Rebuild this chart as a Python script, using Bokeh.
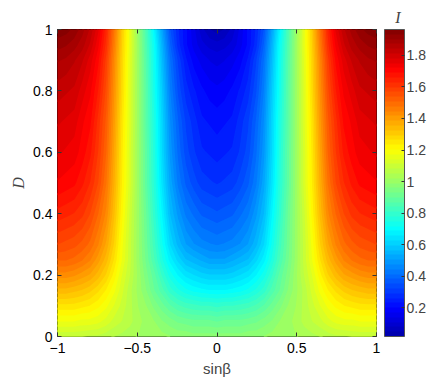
import numpy as np
from bokeh.plotting import figure
from bokeh.models import ColorBar, LinearColorMapper, FixedTicker, LinearAxis, Range1d
from bokeh.core.properties import field
from bokeh.embed import file_html
from bokeh.resources import INLINE

# ---- data (symmetric in sin(beta); right half given) ----
sin_beta_half = [0.0, 0.05, 0.1, 0.15, 0.2, 0.25, 0.3, 0.35, 0.4, 0.45, 0.5,
                 0.55, 0.6, 0.65, 0.7, 0.75, 0.8, 0.85, 0.9, 0.95, 1.0]
D_values = [0.0, 0.05, 0.1, 0.15, 0.2, 0.25, 0.3, 0.4, 0.5, 0.6, 0.7, 0.8, 0.9, 0.95, 1.0]
I_half = [
    [0.97, 0.97, 0.97, 0.97, 0.98, 0.98, 0.99, 1.00, 1.01, 1.02, 1.02, 1.03, 1.04, 1.05, 1.06, 1.07, 1.07, 1.08, 1.08, 1.08, 1.08],
    [0.89, 0.90, 0.90, 0.90, 0.91, 0.92, 0.94, 0.96, 0.99, 1.01, 1.03, 1.06, 1.08, 1.10, 1.13, 1.15, 1.16, 1.16, 1.17, 1.17, 1.17],
    [0.79, 0.80, 0.80, 0.81, 0.82, 0.84, 0.87, 0.91, 0.95, 0.99, 1.02, 1.06, 1.10, 1.14, 1.18, 1.21, 1.23, 1.24, 1.25, 1.25, 1.25],
    [0.68, 0.68, 0.69, 0.70, 0.72, 0.75, 0.79, 0.85, 0.90, 0.96, 1.01, 1.06, 1.12, 1.18, 1.23, 1.27, 1.30, 1.32, 1.33, 1.34, 1.34],
    [0.59, 0.59, 0.60, 0.62, 0.64, 0.68, 0.73, 0.80, 0.88, 0.94, 1.01, 1.08, 1.14, 1.22, 1.29, 1.34, 1.38, 1.40, 1.42, 1.43, 1.43],
    [0.50, 0.50, 0.52, 0.54, 0.56, 0.61, 0.67, 0.75, 0.84, 0.92, 1.00, 1.09, 1.17, 1.26, 1.34, 1.40, 1.45, 1.48, 1.50, 1.51, 1.51],
    [0.43, 0.44, 0.45, 0.47, 0.50, 0.55, 0.62, 0.72, 0.82, 0.91, 1.00, 1.09, 1.18, 1.29, 1.38, 1.45, 1.50, 1.53, 1.55, 1.56, 1.57],
    [0.35, 0.36, 0.37, 0.40, 0.43, 0.49, 0.56, 0.68, 0.79, 0.90, 1.00, 1.10, 1.21, 1.33, 1.44, 1.51, 1.57, 1.61, 1.63, 1.64, 1.65],
    [0.28, 0.29, 0.30, 0.33, 0.37, 0.43, 0.52, 0.64, 0.77, 0.88, 1.00, 1.12, 1.23, 1.36, 1.48, 1.57, 1.63, 1.67, 1.70, 1.71, 1.72],
    [0.24, 0.25, 0.26, 0.29, 0.33, 0.40, 0.49, 0.62, 0.76, 0.88, 1.00, 1.12, 1.24, 1.38, 1.51, 1.60, 1.67, 1.71, 1.74, 1.75, 1.76],
    [0.21, 0.22, 0.23, 0.27, 0.31, 0.38, 0.47, 0.61, 0.75, 0.87, 1.00, 1.13, 1.25, 1.40, 1.53, 1.62, 1.70, 1.73, 1.77, 1.78, 1.79],
    [0.17, 0.18, 0.20, 0.23, 0.27, 0.34, 0.44, 0.59, 0.73, 0.87, 1.00, 1.13, 1.27, 1.42, 1.56, 1.66, 1.73, 1.77, 1.81, 1.82, 1.83],
    [0.12, 0.13, 0.15, 0.18, 0.23, 0.31, 0.41, 0.56, 0.72, 0.86, 1.00, 1.14, 1.28, 1.44, 1.59, 1.70, 1.77, 1.82, 1.85, 1.87, 1.88],
    [0.08, 0.09, 0.11, 0.15, 0.20, 0.27, 0.38, 0.54, 0.71, 0.85, 1.00, 1.15, 1.29, 1.46, 1.62, 1.73, 1.81, 1.86, 1.89, 1.91, 1.92],
    [0.02, 0.04, 0.08, 0.14, 0.20, 0.26, 0.35, 0.51, 0.68, 0.84, 0.99, 1.15, 1.30, 1.48, 1.64, 1.76, 1.84, 1.89, 1.93, 1.95, 1.96],
]
I_low, I_high = 0.016, 1.965

x_ticks = [-1, -0.5, 0, 0.5, 1]
x_tick_labels = ["\u22121", "\u22120.5", "0", "0.5", "1"]
y_ticks = [0, 0.2, 0.4, 0.6, 0.8, 1]
y_tick_labels = ["0", "0.2", "0.4", "0.6", "0.8", "1"]
cb_ticks = [0.2, 0.4, 0.6, 0.8, 1.0, 1.2, 1.4, 1.6, 1.8]
cb_tick_labels = ["0.2", "0.4", "0.6", "0.8", "1", "1.2", "1.4", "1.6", "1.8"]

# ---- full grid (mirror of the right half) ----
x = np.array([-v for v in sin_beta_half[::-1]] + sin_beta_half[1:])
y = np.array(D_values)
z = np.array([row[::-1] + row[1:] for row in I_half])

# ---- jet-like palette, 64 entries ----
def jet_hex(f):
    r = min(max(1.5 - abs(4 * f - 3), 0), 1)
    g = min(max(1.5 - abs(4 * f - 2), 0), 1)
    b = min(max(1.5 - abs(4 * f - 1), 0), 1)
    return "#%02x%02x%02x" % (int(round(r * 255)), int(round(g * 255)), int(round(b * 255)))

N = 64
palette = [jet_hex(0.04 + 0.96 * (i + 0.5) / N) for i in range(N)]
levels = list(np.linspace(0.01, 1.97, N + 1))

TICK_FONT = "Liberation Sans"
FRAME_W, FRAME_H = 319, 307

p = figure(frame_width=FRAME_W, frame_height=FRAME_H,
           x_range=Range1d(-1, 1), y_range=Range1d(0, 1),
           output_backend="svg", toolbar_location=None,
           min_border_left=57, min_border_top=29, min_border_bottom=46, min_border_right=60,
           title="I")

p.title.text_font = "Liberation Serif"
p.title.text_font_style = "italic"
p.title.text_font_size = "16px"
p.title.align = "right"
p.title.offset = -24
p.title.standoff = 8

mapper = LinearColorMapper(palette=palette, low=I_low, high=I_high)

cr = p.contour(x=x, y=y, z=z, levels=levels, fill_color=palette)
cr.line_renderer.visible = False
fg = cr.fill_renderer.glyph
fg.line_color = field("fill_color")
fg.line_width = 2
fg.line_alpha = 1.0
fg.line_join = "round"

p.grid.visible = False
p.outline_line_color = "black"
p.outline_line_width = 1
p.background_fill_color = "white"

for ax in p.xaxis:
    ax.ticker = FixedTicker(ticks=x_ticks)
    ax.major_label_overrides = dict(zip(x_ticks, x_tick_labels))
for ax in p.yaxis:
    ax.ticker = FixedTicker(ticks=y_ticks)
    ax.major_label_overrides = dict(zip(y_ticks, y_tick_labels))

for ax in list(p.xaxis) + list(p.yaxis):
    ax.axis_line_color = None
    ax.major_tick_in = 4
    ax.major_tick_out = 0
    ax.major_tick_line_color = "#333333"
    ax.minor_tick_line_color = None
    ax.major_label_text_font = TICK_FONT
    ax.major_label_text_font_size = "14px"
    ax.major_label_text_color = "black"

p.xaxis.major_label_standoff = 6
p.yaxis.major_label_standoff = 5

p.xaxis.axis_label = "sin\u03b2"
p.xaxis.axis_label_text_font = TICK_FONT
p.xaxis.axis_label_text_font_size = "15px"
p.xaxis.axis_label_text_font_style = "normal"
p.xaxis.axis_label_standoff = 4

p.yaxis.axis_label = "D"
p.yaxis.axis_label_text_font = "Liberation Serif"
p.yaxis.axis_label_text_font_size = "16px"
p.yaxis.axis_label_text_font_style = "italic"
p.yaxis.axis_label_standoff = 3

top = LinearAxis(ticker=FixedTicker(ticks=x_ticks),
                 major_label_overrides={t: "" for t in x_ticks},
                 axis_line_color=None, major_tick_in=4, major_tick_out=0,
                 major_tick_line_color="#333333", minor_tick_line_color=None,
                 major_label_standoff=0)
p.add_layout(top, "above")
right = LinearAxis(ticker=FixedTicker(ticks=y_ticks),
                   major_label_overrides={t: "" for t in y_ticks},
                   axis_line_color=None, major_tick_in=4, major_tick_out=0,
                   major_tick_line_color="#333333", minor_tick_line_color=None,
                   major_label_standoff=0)
p.add_layout(right, "right")

cb = ColorBar(color_mapper=mapper, ticker=FixedTicker(ticks=cb_ticks),
              major_label_overrides=dict(zip(cb_ticks, cb_tick_labels)),
              width=20, height=FRAME_H, padding=0, margin=0, label_standoff=2,
              location=(FRAME_W + 8, 0),
              major_tick_in=3, major_tick_out=0, major_tick_line_color="#333333",
              minor_tick_line_color=None,
              bar_line_color="#555555", bar_line_width=1,
              major_label_text_font=TICK_FONT, major_label_text_font_size="14px",
              background_fill_color=None, border_line_color=None)
p.add_layout(cb)

open("out.html", "w").write(file_html(p, INLINE))
